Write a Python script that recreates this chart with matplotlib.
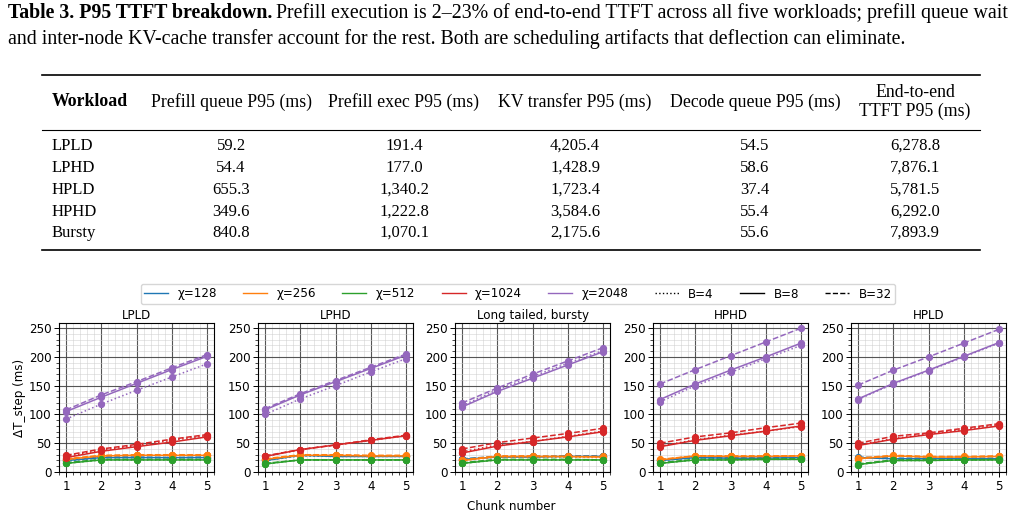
import numpy as np
import matplotlib
matplotlib.use("Agg")
import matplotlib.pyplot as plt
from matplotlib.lines import Line2D

W, H = 1021, 518

# ---- table data ----
workloads = ["LPLD", "LPHD", "HPLD", "HPHD", "Bursty"]
prefill_queue = ["59.2", "54.4", "655.3", "349.6", "840.8"]
prefill_exec = ["191.4", "177.0", "1,340.2", "1,222.8", "1,070.1"]
kv_transfer = ["4,205.4", "1,428.9", "1,723.4", "3,584.6", "2,175.6"]
decode_queue = ["54.5", "58.6", "37.4", "55.4", "55.6"]
ttft = ["6,278.8", "7,876.1", "5,781.5", "6,292.0", "7,893.9"]
headers = ["Workload", "Prefill queue P95 (ms)", "Prefill exec P95 (ms)",
           "KV transfer P95 (ms)", "Decode queue P95 (ms)", "End-to-end\nTTFT P95 (ms)"]

# ---- chart data: per panel, per chi -> [B=4, B=8, B=32] ----
chunks = [1, 2, 3, 4, 5]
chis = [128, 256, 512, 1024, 2048]
batches = [4, 8, 32]
panel_titles = ["LPLD", "LPHD", "Long tailed, bursty", "HPHD", "HPLD"]

lpld = {
    128: [[19, 25, 25, 25, 25], [20, 25, 25, 25, 25], [20, 26, 26, 25, 26]],
    256: [[21, 28, 29, 29, 29], [22, 28, 29, 29, 29], [23, 29, 30, 30, 30]],
    512: [[15, 21, 21, 21, 21], [15, 21, 21, 21, 21], [16, 22, 22, 22, 22]],
    1024: [[27, 38, 46, 55, 63], [25, 36, 44, 52, 61], [29, 40, 48, 57, 65]],
    2048: [[92, 118, 142, 165, 188], [105, 130, 154, 178, 201], [108, 134, 157, 181, 204]],
}
lphd = {
    128: [[20, 28, 27, 27, 27], [20, 29, 27, 27, 27], [20, 30, 28, 28, 28]],
    256: [[22, 29, 29, 28, 28], [22, 29, 29, 28, 28], [23, 30, 30, 29, 29]],
    512: [[14, 21, 21, 21, 21], [14, 21, 21, 21, 21], [15, 21, 21, 21, 21]],
    1024: [[27, 39, 47, 55, 63], [27, 39, 47, 55, 63], [28, 39, 47, 56, 64]],
    2048: [[100, 127, 150, 174, 197], [108, 134, 157, 180, 203], [110, 136, 159, 182, 205]],
}
bursty = {
    128: [[22, 26, 26, 27, 27], [22, 26, 26, 27, 27], [23, 27, 27, 28, 28]],
    256: [[20, 26, 26, 26, 25], [20, 27, 27, 27, 26], [21, 28, 28, 27, 27]],
    512: [[15, 21, 21, 21, 21], [15, 21, 21, 21, 21], [16, 22, 22, 22, 21]],
    1024: [[35, 47, 53, 62, 71], [33, 45, 53, 61, 70], [40, 51, 59, 67, 76]],
    2048: [[115, 143, 166, 189, 211], [113, 140, 163, 186, 209], [120, 146, 170, 193, 216]],
}
hphd = {
    128: [[20, 25, 24, 24, 25], [20, 25, 24, 24, 25], [21, 25, 25, 25, 25]],
    256: [[21, 28, 27, 27, 28], [21, 28, 27, 27, 28], [22, 28, 28, 28, 28]],
    512: [[15, 21, 21, 22, 22], [15, 21, 21, 22, 22], [16, 22, 22, 22, 23]],
    1024: [[45, 56, 64, 71, 79], [44, 55, 63, 71, 80], [50, 61, 68, 77, 85]],
    2048: [[122, 150, 173, 197, 220], [126, 153, 177, 200, 224], [153, 178, 202, 226, 250]],
}
hpld = {
    128: [[25, 23, 23, 23, 23], [25, 23, 23, 23, 23], [26, 24, 24, 24, 24]],
    256: [[23, 28, 26, 26, 27], [23, 28, 26, 26, 27], [24, 29, 27, 27, 28]],
    512: [[13, 20, 20, 21, 21], [13, 20, 20, 21, 21], [14, 21, 21, 21, 22]],
    1024: [[47, 58, 66, 74, 82], [46, 57, 65, 72, 80], [50, 62, 68, 76, 84]],
    2048: [[126, 153, 176, 200, 224], [127, 154, 177, 201, 225], [151, 177, 200, 224, 248]],
}
panels = [lpld, lphd, bursty, hphd, hpld]

colors = ["tab:blue", "tab:orange", "tab:green", "tab:red", "tab:purple"]
styles = [":", "-", "--"]

fig = plt.figure(figsize=(W / 100, H / 100), dpi=100)

def fx(px):
    return px / W

def fy(py):
    return 1 - py / H

# caption
serif = "Liberation Serif"
cap_size = 14.3
fig.text(fx(8), fy(13), "Table 3. P95 TTFT breakdown.", fontsize=cap_size, family=serif,
         weight="bold", va="center", ha="left")
t1 = fig.text(fx(8), fy(13), "", fontsize=cap_size, family=serif, va="center")
fig.canvas.draw()
bold_w = fig.texts[0].get_window_extent().width
t1.set_position((fx(8 + bold_w + 4), fy(13)))
t1.set_text("Prefill execution is 2\u201323% of end-to-end TTFT across all five workloads; prefill queue wait")
fig.text(fx(8), fy(39), "and inter-node KV-cache transfer account for the rest. Both are scheduling artifacts that deflection can eliminate.",
         fontsize=cap_size, family=serif, va="center", ha="left")

# table rules
fig.add_artist(Line2D([fx(42), fx(980)], [fy(75), fy(75)], color="black", lw=1.2))
fig.add_artist(Line2D([fx(42), fx(980)], [fy(130), fy(130)], color="black", lw=0.8))
fig.add_artist(Line2D([fx(42), fx(980)], [fy(250), fy(250)], color="black", lw=1.2))

head_size = 12.8
val_size = 12.0
col_x = [52, 231, 404, 575, 755, 915]
fig.text(fx(col_x[0]), fy(102), headers[0], fontsize=head_size, family=serif, weight="bold",
         va="center", ha="left")
for cx, h in zip(col_x[1:], headers[1:]):
    fig.text(fx(cx), fy(102), h, fontsize=head_size, family=serif, va="center", ha="center",
             linespacing=1.1)
row_y = [146, 168, 190, 212, 233]
columns = [prefill_queue, prefill_exec, kv_transfer, decode_queue, ttft]
for i, wl in enumerate(workloads):
    fig.text(fx(col_x[0]), fy(row_y[i]), wl, fontsize=val_size, family=serif, va="center", ha="left")
    for cx, col in zip(col_x[1:], columns):
        fig.text(fx(cx), fy(row_y[i]), col[i], fontsize=val_size, family=serif, va="center", ha="center")

# chart panels
lefts = [59, 258, 455, 653, 851]
fs = 8.6
for k, (data, title) in enumerate(zip(panels, panel_titles)):
    ax = fig.add_axes([fx(lefts[k]), fy(472), 155 / W, 149 / H])
    for c, chi in enumerate(chis):
        for b, ls in enumerate(styles):
            ax.plot(chunks, data[chi][b], color=colors[c], linestyle=ls, marker="o",
                    markersize=4.2, linewidth=1.1)
    ax.set_ylim(0, 259)
    ax.set_xticks(chunks)
    ax.set_yticks([0, 50, 100, 150, 200, 250])
    ax.minorticks_on()
    ax.grid(which="major", color="#444444", linewidth=0.8, alpha=0.9)
    ax.grid(which="minor", color="#cccccc", linewidth=0.5, alpha=0.7)
    ax.tick_params(labelsize=fs, length=3.5, width=0.7, pad=2)
    ax.tick_params(which="minor", length=2, width=0.5)
    ax.set_title(title, fontsize=fs, pad=3)
    if k == 0:
        ax.set_ylabel("\u0394T_step (ms)", fontsize=fs, labelpad=2)

fig.text(fx(511), fy(506), "Chunk number", fontsize=fs, ha="center", va="center")

handles = [Line2D([], [], color=c, lw=1.0) for c in colors]
labels = ["\u03c7=%d" % chi for chi in chis]
for ls, bb in zip(styles, batches):
    handles.append(Line2D([], [], color="black", linestyle=ls, lw=1.0))
    labels.append("B=%d" % bb)
fig.legend(handles, labels, loc="center", bbox_to_anchor=(fx(518), fy(294)), ncol=8,
           fontsize=fs, frameon=True, handlelength=2.0, columnspacing=2.2,
           borderpad=0.3, handletextpad=0.8)

fig.savefig("out.png", dpi=100)
